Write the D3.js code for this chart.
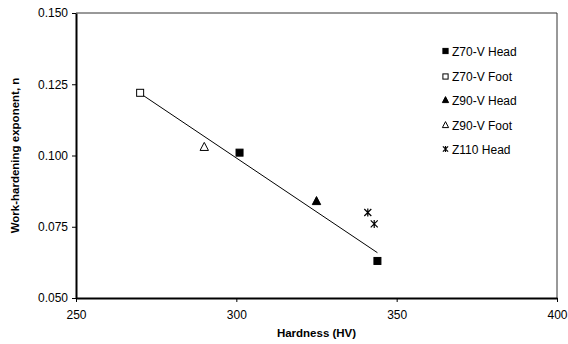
<!DOCTYPE html>
<html>
<head>
<meta charset="utf-8">
<script src="https://cdn.jsdelivr.net/npm/d3@7"></script>
<style>
  body { margin: 0; background: #fff; }
  svg { font-family: "Liberation Sans", Arial, sans-serif; }
</style>
</head>
<body>
<svg id="chart" width="568" height="344"></svg>
<script>
// series data
const seriesNames = ["Z70-V Head", "Z70-V Foot", "Z90-V Head", "Z90-V Foot", "Z110 Head"];
const z70HeadX = [301, 344];
const z70HeadY = [0.101, 0.063];
const z70FootX = [270];
const z70FootY = [0.122];
const z90HeadX = [325];
const z90HeadY = [0.084];
const z90FootX = [290];
const z90FootY = [0.103];
const z110HeadX = [341, 343];
const z110HeadY = [0.080, 0.076];
const xTicks = [250, 300, 350, 400];
const yTicks = [0.050, 0.075, 0.100, 0.125, 0.150];

const svg = d3.select("#chart");
const m = {left: 76, top: 13, right: 557, bottom: 298};

const x = d3.scaleLinear().domain([250, 400]).range([m.left, m.right]);
const y = d3.scaleLinear().domain([0.05, 0.15]).range([m.bottom, m.top]);

// frame: thin top/right
svg.append("line").attr("x1", m.left).attr("x2", m.right).attr("y1", m.top).attr("y2", m.top)
  .attr("stroke", "#333").attr("stroke-width", 1);
svg.append("line").attr("x1", m.right).attr("x2", m.right).attr("y1", m.top).attr("y2", m.bottom)
  .attr("stroke", "#333").attr("stroke-width", 1);

// axes
const xAxis = svg.append("g").attr("transform", `translate(0,${m.bottom})`)
  .call(d3.axisBottom(x).tickValues(xTicks).tickFormat(d3.format("d")).tickSizeInner(4).tickSizeOuter(0).tickPadding(8));
const yAxis = svg.append("g").attr("transform", `translate(${m.left},0)`)
  .call(d3.axisLeft(y).tickValues(yTicks).tickFormat(d3.format(".3f")).tickSizeInner(4).tickSizeOuter(0).tickPadding(4));
[xAxis, yAxis].forEach(g => {
  g.select(".domain").attr("stroke", "#000").attr("stroke-width", 2);
  g.selectAll(".tick line").attr("stroke", "#000");
  g.selectAll("text").attr("font-size", 12).attr("fill", "#000")
    .attr("font-family", "Liberation Sans, Arial, sans-serif");
});

// axis titles
svg.append("text").attr("x", (m.left + m.right) / 2).attr("y", 337)
  .attr("text-anchor", "middle").attr("font-size", 11.5).attr("font-weight", "bold")
  .text("Hardness (HV)");
svg.append("text").attr("transform", `translate(19,${(m.top + m.bottom) / 2}) rotate(-90)`)
  .attr("text-anchor", "middle").attr("font-size", 11.5).attr("font-weight", "bold")
  .text("Work-hardening exponent, n");

// linear trend over the Z70-V / Z90-V points
const trendPts = [];
[[z70HeadX, z70HeadY], [z70FootX, z70FootY], [z90HeadX, z90HeadY], [z90FootX, z90FootY]].forEach(([xs, ys]) => {
  xs.forEach((v, i) => trendPts.push([v, ys[i]]));
});
const mx = d3.mean(trendPts, d => d[0]);
const my = d3.mean(trendPts, d => d[1]);
const slope = d3.sum(trendPts, d => (d[0] - mx) * (d[1] - my)) / d3.sum(trendPts, d => (d[0] - mx) ** 2);
const icpt = my - slope * mx;
const xMin = d3.min(trendPts, d => d[0]), xMax = d3.max(trendPts, d => d[0]);
svg.append("line")
  .attr("x1", x(xMin)).attr("y1", y(icpt + slope * xMin))
  .attr("x2", x(xMax)).attr("y2", y(icpt + slope * xMax))
  .attr("stroke", "#000").attr("stroke-width", 1);

// markers, s = half size
function marker(g, type, cx, cy, s) {
  if (type === "sqFill" || type === "sqOpen") {
    g.append("rect").attr("x", cx - s).attr("y", cy - s).attr("width", 2 * s).attr("height", 2 * s)
      .attr("fill", type === "sqFill" ? "#000" : "#fff").attr("stroke", "#000").attr("stroke-width", 1);
  } else if (type === "triFill" || type === "triOpen") {
    g.append("path").attr("d", `M${cx},${cy - s * 1.3}L${cx + s * 1.2},${cy + s}L${cx - s * 1.2},${cy + s}Z`)
      .attr("fill", type === "triFill" ? "#000" : "#fff").attr("stroke", "#000").attr("stroke-width", 1);
  } else {
    g.append("path").attr("d", `M${cx - s},${cy - s}L${cx + s},${cy + s}M${cx + s},${cy - s}L${cx - s},${cy + s}M${cx},${cy - s * 1.15}L${cx},${cy + s * 1.15}`)
      .attr("fill", "none").attr("stroke", "#000").attr("stroke-width", 1.2);
  }
}
const series = [
  {name: seriesNames[0], xs: z70HeadX, ys: z70HeadY, type: "sqFill"},
  {name: seriesNames[1], xs: z70FootX, ys: z70FootY, type: "sqOpen"},
  {name: seriesNames[2], xs: z90HeadX, ys: z90HeadY, type: "triFill"},
  {name: seriesNames[3], xs: z90FootX, ys: z90FootY, type: "triOpen"},
  {name: seriesNames[4], xs: z110HeadX, ys: z110HeadY, type: "star"}
];
const pts = svg.append("g");
series.forEach(s => s.xs.forEach((v, i) => marker(pts, s.type, x(v), y(s.ys[i]), 3.5)));

// legend
const leg = svg.append("g");
const legRows = [51, 76.5, 100, 125, 149];
series.forEach((s, i) => {
  const ly = legRows[i];
  const lg = leg.append("g");
  marker(lg, s.type, 445.5, ly, 2.6);
  lg.append("text").attr("x", 452).attr("y", ly + 4.5).attr("font-size", 12).text(s.name);
});
</script>
</body>
</html>
